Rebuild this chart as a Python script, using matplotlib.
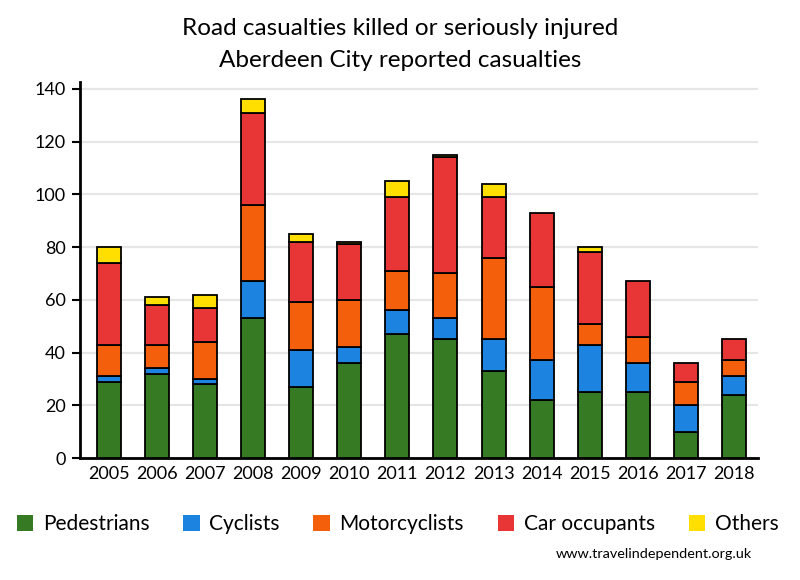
import matplotlib
matplotlib.use("Agg")
import matplotlib.pyplot as plt
import numpy as np

plt.rcParams['font.family'] = ['Lato', 'DejaVu Sans']

years = ["2005", "2006", "2007", "2008", "2009", "2010", "2011",
         "2012", "2013", "2014", "2015", "2016", "2017", "2018"]
pedestrians   = [29, 32, 28, 53, 27, 36, 47, 45, 33, 22, 25, 25, 10, 24]
cyclists      = [2, 2, 2, 14, 14, 6, 9, 8, 12, 15, 18, 11, 10, 7]
motorcyclists = [12, 9, 14, 29, 18, 18, 15, 17, 31, 28, 8, 10, 9, 6]
car_occupants = [31, 15, 13, 35, 23, 21, 28, 44, 23, 28, 27, 21, 7, 8]
others        = [6, 3, 5, 5, 3, 1, 6, 1, 5, 0, 2, 0, 0, 0]

series_names = ["Pedestrians", "Cyclists", "Motorcyclists", "Car occupants", "Others"]
series = [pedestrians, cyclists, motorcyclists, car_occupants, others]
colors = ["#367a23", "#1c84e0", "#f45f0b", "#e83535", "#ffdf00"]

fig = plt.figure(figsize=(8, 5.8), dpi=100)
ax = fig.add_axes([0.1, 0.2103, 0.8475, 0.6483])

x = np.arange(len(years))
bottom = np.zeros(len(years))
for name, vals, col in zip(series_names, series, colors):
    vals = np.array(vals, dtype=float)
    mask = vals > 0
    ax.bar(x[mask], vals[mask], width=0.5, bottom=bottom[mask], color=col,
           edgecolor="black", linewidth=1.3, zorder=3, label=name)
    bottom += vals

ax.set_xlim(-0.6, 13.5)
ax.set_ylim(0, 142.6)
ax.set_yticks(range(0, 141, 20))
ax.set_xticks(x)
ax.set_xticklabels(years)
ax.tick_params(axis='x', length=0, labelsize=13, pad=6)
ax.tick_params(axis='y', length=6, width=1.5, labelsize=13, pad=4, direction='out')
ax.yaxis.grid(True, color="#e6e6e6", linewidth=1.6, zorder=0)
ax.set_axisbelow(True)
for s in ["top", "right"]:
    ax.spines[s].set_visible(False)
for s in ["left", "bottom"]:
    ax.spines[s].set_linewidth(2)
    ax.spines[s].set_color("black")

fig.text(0.5, 0.951, "Road casualties killed or seriously injured", ha="center",
         va="center", fontsize=17.5)
fig.text(0.5, 0.896, "Aberdeen City reported casualties", ha="center",
         va="center", fontsize=17.5)

from matplotlib.patches import Patch
leg_handles = [Patch(facecolor=c, edgecolor="none") for c in colors]
fig.legend(leg_handles, series_names, loc="center", bbox_to_anchor=(0.497, 0.096),
           ncol=5, frameon=False, fontsize=15, handlelength=0.8, handleheight=0.8,
           handletextpad=0.45, columnspacing=1.62)

fig.text(0.94, 0.045, "www.travelindependent.org.uk", ha="right", va="center",
         fontsize=10.4)

fig.savefig("out.png", dpi=100)
